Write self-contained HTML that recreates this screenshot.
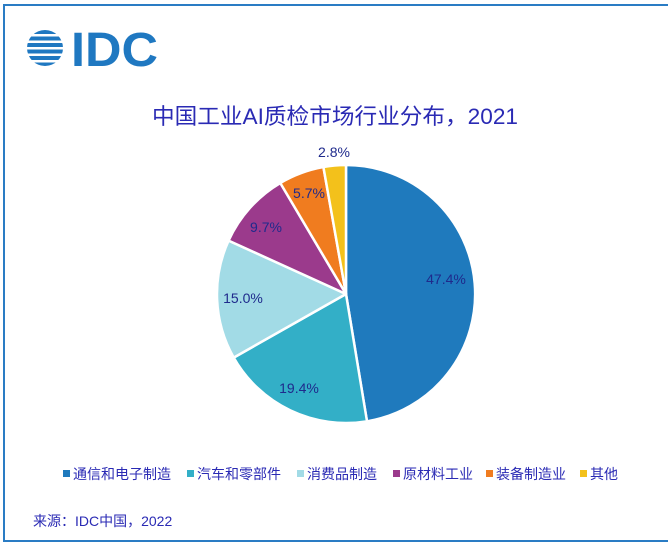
<!DOCTYPE html>
<html><head><meta charset="utf-8"><style>
html,body{margin:0;padding:0;background:#fff;}
svg{display:block;}
text{font-family:"Liberation Sans","Noto Sans CJK SC",sans-serif;}
</style></head><body>
<svg width="668" height="544" viewBox="0 0 668 544" xmlns="http://www.w3.org/2000/svg">
<rect x="4" y="5" width="670" height="536" fill="#fff" stroke="#2a7cc4" stroke-width="2"/>
<defs><clipPath id="g"><circle cx="45" cy="48" r="18"/></clipPath></defs>
<g clip-path="url(#g)" fill="#1f78c1">
<rect x="27" y="30" width="36" height="4"/>
<rect x="27" y="36.5" width="36" height="4"/>
<rect x="27" y="43" width="36" height="4"/>
<rect x="27" y="49.5" width="36" height="4"/>
<rect x="27" y="56" width="36" height="4"/>
<rect x="27" y="62.5" width="36" height="4"/>
</g>
<text x="71" y="66" font-size="48" font-weight="bold" fill="#1f78c1" textLength="87" lengthAdjust="spacingAndGlyphs">IDC</text>
<text x="152" y="124" font-size="22" fill="#2a2ab4" textLength="366" lengthAdjust="spacingAndGlyphs">中国工业AI质检市场行业分布，2021</text>
<g stroke="#fff" stroke-width="2.5" stroke-linejoin="round">
<path d="M346,294 L346,165 A129,129 0 0 1 367,421.3 Z" fill="#1f7abd"/>
<path d="M346,294 L367,421.3 A129,129 0 0 1 233.7,357.6 Z" fill="#33afc7"/>
<path d="M346,294 L233.7,357.6 A129,129 0 0 1 228.6,240.6 Z" fill="#a2dbe6"/>
<path d="M346,294 L228.6,240.6 A129,129 0 0 1 280.3,183 Z" fill="#9b3a8c"/>
<path d="M346,294 L280.3,183 A129,129 0 0 1 323.4,167 Z" fill="#f07c1f"/>
<path d="M346,294 L323.4,167 A129,129 0 0 1 346,165 Z" fill="#f3c11b"/>
</g>
<g font-size="14" fill="#1f2a8c" text-anchor="middle">
<text x="446" y="284">47.4%</text>
<text x="299" y="393">19.4%</text>
<text x="243" y="303">15.0%</text>
<text x="266" y="232">9.7%</text>
<text x="309" y="198">5.7%</text>
<text x="334" y="157">2.8%</text>
</g>
<g font-size="14" fill="#2a2ab4">
<rect x="63" y="470" width="7" height="7" fill="#1f7abd"/><text x="73" y="479">通信和电子制造</text>
<rect x="187" y="470" width="7" height="7" fill="#33afc7"/><text x="197" y="479">汽车和零部件</text>
<rect x="297" y="470" width="7" height="7" fill="#a2dbe6"/><text x="307" y="479">消费品制造</text>
<rect x="393" y="470" width="7" height="7" fill="#9b3a8c"/><text x="403" y="479">原材料工业</text>
<rect x="486" y="470" width="7" height="7" fill="#f07c1f"/><text x="496" y="479">装备制造业</text>
<rect x="580" y="470" width="7" height="7" fill="#f3c11b"/><text x="590" y="479">其他</text>
<text x="33" y="526">来源：IDC中国，2022</text>
</g>
</svg>
</body></html>
